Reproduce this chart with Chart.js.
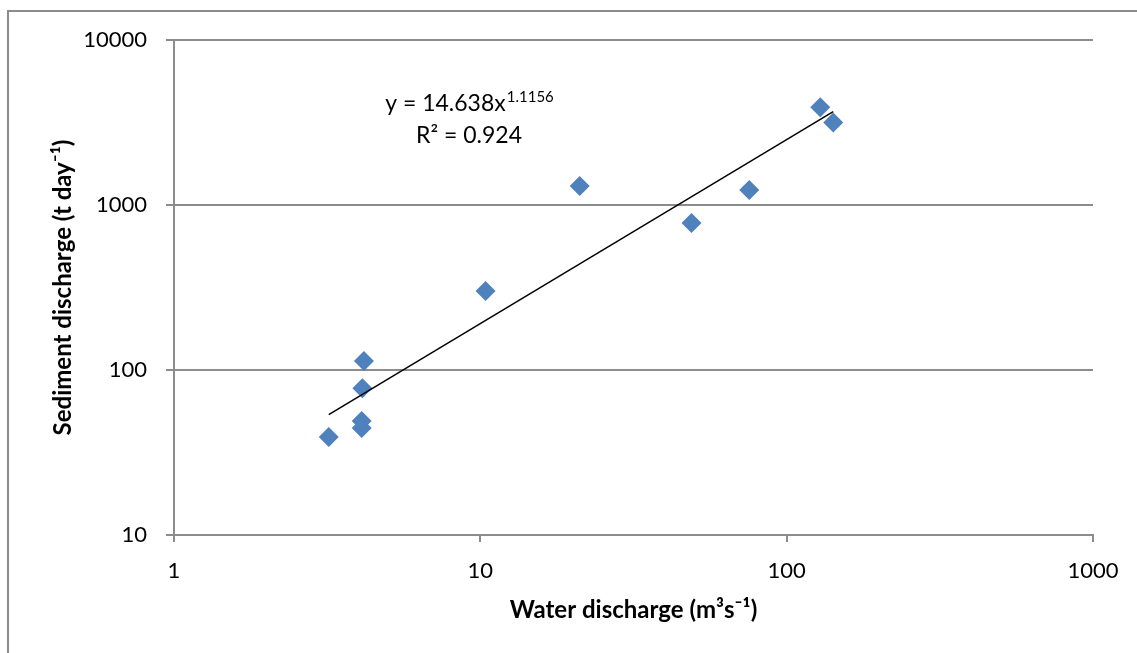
<!DOCTYPE html>
<html>
<head>
<meta charset="utf-8">
<script src="https://cdn.jsdelivr.net/npm/chart.js@4"></script>
<style>
  body { margin: 0; background: #fff; overflow: hidden; }
  #frame { position: absolute; left: 7px; top: 10px; width: 1300px; height: 800px;
           border-left: 2px solid #8c8c8c; border-top: 2px solid #8c8c8c; }
  #chart { position: absolute; left: 0; top: 0; }
</style>
</head>
<body>
<div id="frame"></div>
<canvas id="chart" width="1137" height="653"></canvas>
<script>
// water discharge (m3/s) and sediment discharge (t/day)
const waterQ = [3.2, 4.1, 4.1, 4.12, 4.17, 10.4, 21.1, 48.9, 75.5, 128.7, 141.9];
const sedQ = [39.3, 44.5, 49.1, 77.4, 113.5, 301, 1303, 778, 1233, 3908, 3157];

// power trend line ends, as drawn in the picture
const trendX = [3.2, 141.9];
const trendY = [53.6, 3680];

const xTicks = [1, 10, 100, 1000];
const yTicks = [10, 100, 1000, 10000];

const eqText = 'y = 14.638x';
const eqPower = '1.1156';
const r2Text = 'R² = 0.924';

const gridGray = '#8c8c8c';
const blue = '#4f81bd';

const equationLabel = {
  id: 'equationLabel',
  afterDatasetsDraw(chart) {
    const {ctx, chartArea} = chart;
    const cx = chartArea.left + 295;
    const y1 = chartArea.top + 71;
    ctx.save();
    ctx.fillStyle = '#000';
    ctx.textBaseline = 'alphabetic';
    ctx.font = '23px Lato';
    const w1 = ctx.measureText(eqText).width;
    ctx.font = '15px Lato';
    const w2 = ctx.measureText(eqPower).width;
    const start = cx - (w1 + w2) / 2;
    ctx.font = '23px Lato';
    ctx.textAlign = 'left';
    ctx.fillText(eqText, start, y1);
    ctx.font = '15px Lato';
    ctx.fillText(eqPower, start + w1 + 1, y1 - 9);
    ctx.font = '23px Lato';
    ctx.textAlign = 'center';
    ctx.fillText(r2Text, cx, y1 + 32);
    ctx.restore();
  }
};

const points = waterQ.map((x, i) => ({x: x, y: sedQ[i]}));
const trend = trendX.map((x, i) => ({x: x, y: trendY[i]}));

new Chart(document.getElementById('chart').getContext('2d'), {
  type: 'scatter',
  data: {
    datasets: [{
      data: trend,
      showLine: true,
      borderColor: '#000',
      borderWidth: 1.5,
      pointRadius: 0,
      order: 0
    }, {
      data: points,
      pointStyle: 'rectRot',
      pointRadius: 10,
      pointBackgroundColor: blue,
      pointBorderColor: blue,
      pointBorderWidth: 0,
      order: 1
    }]
  },
  options: {
    responsive: false,
    animation: false,
    layout: { padding: { left: 0, top: 40, right: 44, bottom: 0 } },
    plugins: { legend: { display: false }, tooltip: { enabled: false } },
    scales: {
      x: {
        type: 'logarithmic',
        min: 1,
        max: 1000,
        afterBuildTicks: s => { s.ticks = xTicks.map(v => ({value: v})); },
        afterFit: s => { s.height = 118; },
        grid: { drawOnChartArea: false, drawTicks: true, tickLength: 7, color: gridGray, lineWidth: 2 },
        border: { color: gridGray, width: 2 },
        ticks: { color: '#000', font: { family: 'Lato', size: 22 }, padding: 16, maxRotation: 0,
                 callback: v => String(v) },
        title: { display: true, text: 'Water discharge (m³s⁻¹)', color: '#000',
                 font: { family: 'Lato', size: 24, weight: 'bold' }, padding: { bottom: 28 } }
      },
      y: {
        type: 'logarithmic',
        min: 10,
        max: 10000,
        afterBuildTicks: s => { s.ticks = yTicks.map(v => ({value: v})); },
        afterFit: s => { s.width = 174; },
        grid: { color: gridGray, lineWidth: 2, tickLength: 8 },
        border: { color: gridGray, width: 2 },
        ticks: { color: '#000', font: { family: 'Lato', size: 22 }, padding: 19,
                 callback: v => String(v) },
        title: { display: true, text: 'Sediment discharge (t day⁻¹)', color: '#000',
                 font: { family: 'Lato', size: 24, weight: 'bold' }, padding: { top: 49 } }
      }
    }
  },
  plugins: [equationLabel]
});
</script>
</body>
</html>
